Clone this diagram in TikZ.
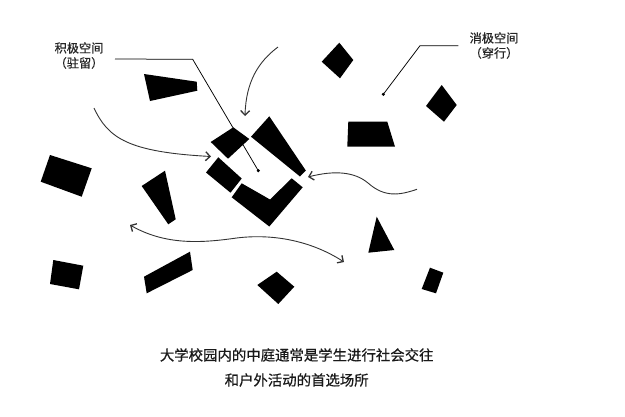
\documentclass[tikz,border=0pt]{standalone}
\usepackage{fontspec}
\newfontfamily\cjk[FakeBold=0.6]{Noto Sans CJK SC}
\usetikzlibrary{arrows.meta}
\begin{document}
\begin{tikzpicture}[x=1pt,y=-1pt,
  block/.style={fill=black},
  tipstyle/.style={},
  flow/.style={draw=black!80,line width=0.9pt,-{Straight Barb[length=4.5pt,width=9pt,line width=1.3pt]}},
  flowboth/.style={draw=black!80,line width=0.9pt,{Straight Barb[length=4.5pt,width=9pt,line width=1.3pt]}-{Straight Barb[length=4.5pt,width=9pt,line width=1.3pt]}},
  leader/.style={draw=black,line width=0.75pt},
  dotmark/.style={circle,fill=black,inner sep=0pt,minimum size=3.4pt},
  label/.style={font=\cjk\fontsize{12.2}{15}\selectfont,text=black!85,align=center,inner sep=0pt},
  caption/.style={font=\cjk\fontsize{14.4}{25}\selectfont,text=black!90,align=center,inner sep=0pt}]
\useasboundingbox (0,0) rectangle (625,416);
% central cluster
\fill[block] (210.7,142) -- (233.3,127.3) -- (249.3,139) -- (228,158.7) -- cycle;
\fill[block] (206,172.5) -- (218.3,157.3) -- (241.7,178.5) -- (230.5,192.7) -- cycle;
\fill[block] (251,136.7) -- (269.3,116.3) -- (305.8,170.5) -- (300,176.5) -- cycle;
\fill[block] (231.7,197.3) -- (241.7,183.3) -- (270,199.5) -- (291.7,178.3) -- (302.7,187.3) -- (269.3,226.5) -- cycle;
% scattered blocks
\fill[block] (144,74) -- (196.7,81.7) -- (197.3,90.7) -- (150,101) -- cycle;
\fill[block] (50,155) -- (91.7,168.3) -- (81.7,196.7) -- (40.7,181.7) -- cycle;
\fill[block] (141.7,186) -- (165,170.7) -- (175.7,219.3) -- (168.3,224.3) -- cycle;
\fill[block] (53.3,260) -- (83.3,265.7) -- (79,289.3) -- (50,284) -- cycle;
\fill[block] (144,276.7) -- (190,251.7) -- (192.7,270) -- (146.7,293.3) -- cycle;
\fill[block] (257.3,285) -- (276.7,271.7) -- (294.3,286.7) -- (278.3,304) -- cycle;
\fill[block] (376.7,216.7) -- (394.3,250) -- (368.3,252.7) -- cycle;
\fill[block] (430,267.7) -- (443.3,272.7) -- (436,293.3) -- (421.7,289) -- cycle;
\fill[block] (321.7,61.7) -- (339.3,42.7) -- (353.3,60) -- (340,78.3) -- cycle;
\fill[block] (426,106) -- (441.7,85) -- (456.7,105) -- (444,121.7) -- cycle;
\fill[block] (348.3,121.7) -- (387.3,121.7) -- (395,146.7) -- (347.3,146.7) -- cycle;
% labels
\node[label] (pos) at (79,55.5) {积极空间\\（驻留）};
\node[label] (neg) at (494,45.5) {消极空间\\（穿行）};
\node[caption] (cap) at (296.7,367.5) {大学校园内的中庭通常是学生进行社会交往\\和户外活动的首选场所};
% leader lines
\node[dotmark] (posdot) at (258.3,170.7) {};
\node[dotmark] (negdot) at (383.3,94.3) {};
\coordinate (posstart) at (115,59);
\coordinate (posbend) at (192.7,59.3);
\coordinate (negstart) at (458.3,45.7);
\coordinate (negbend) at (420,45.7);
\draw[leader] (posstart) -- (posbend) -- (posdot.center);
\draw[leader] (negstart) -- (negbend) -- (negdot.center);
% flow arrows
\coordinate (a1s) at (278,47);
\coordinate (a1e) at (245,116);
\coordinate (a2s) at (94,108);
\coordinate (a2e) at (211,156.5);
\coordinate (a3s) at (417,189.3);
\coordinate (a3m) at (368,183);
\coordinate (a3e) at (308,177);
\coordinate (a4s) at (130,225);
\coordinate (a4m) at (233,238.5);
\coordinate (a4e) at (344,262);
\draw[flow] (a1s) .. controls (258,62) and (246,82) .. (a1e);
\draw[flow] (a2s) .. controls (108,138) and (128,152) .. (a2e);
\draw[flow] (a3s) .. controls (400,195) and (385,198) .. (a3m) .. controls (355,172) and (335,170) .. (a3e);
\draw[flowboth] (a4s) .. controls (165,245) and (200,243) .. (a4m) .. controls (270,233) and (310,240) .. (a4e);
\end{tikzpicture}
\end{document}
